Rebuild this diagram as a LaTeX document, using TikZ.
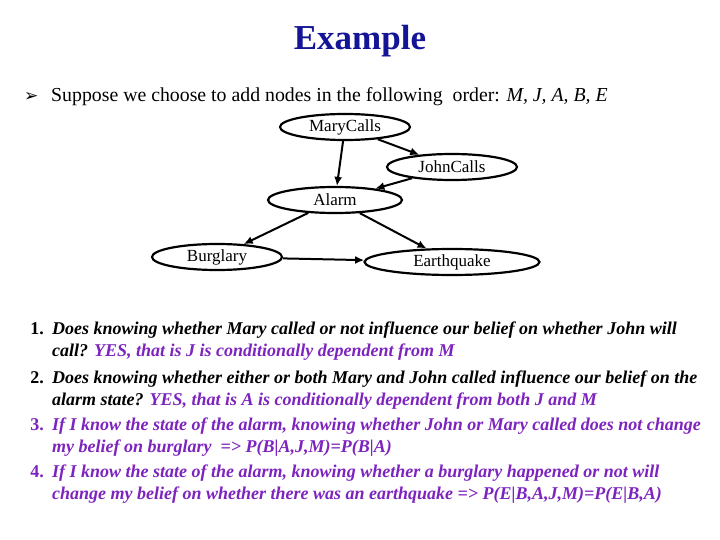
\documentclass[tikz,border=0pt]{standalone}
\usepackage{fontspec}
\setmainfont{Liberation Serif}
\usetikzlibrary{arrows.meta,shapes.geometric}
\definecolor{ttl}{RGB}{20,20,150}
\definecolor{pur}{RGB}{125,35,190}
\tikzset{
 bn/.style={ellipse,draw,line width=2.2pt,minimum height=26pt,inner sep=0pt,font=\fontsize{17}{19}\selectfont},
 ar/.style={-{Latex[length=9pt,width=8pt]},line width=2pt},
 li/.style={anchor=base west,inner sep=0pt,font=\fontsize{18}{20}\selectfont\bfseries\itshape},
 num/.style={anchor=base east,inner sep=0pt,font=\fontsize{18}{20}\selectfont\bfseries},
}
\begin{document}
\begin{tikzpicture}[x=1pt,y=-1pt]
\useasboundingbox (0,0) rectangle (720,540);
\node[font=\fontsize{35}{38}\selectfont\bfseries,text=ttl] (title) at (360,41) {Example};
\node[anchor=base west,inner sep=0pt] (bul) at (24,102) {\fontspec{DejaVu Sans}\fontsize{17}{18}\selectfont ➢};
\node[anchor=base west,inner sep=0pt,font=\fontsize{19.8}{22}\selectfont] (intro) at (51,102) {Suppose we choose to add nodes in the following\ \ order: \textit{M, J, A, B, E}};
\node[bn,minimum width=130pt] (m) at (345,127) {MaryCalls};
\node[bn,minimum width=130pt] (j) at (452,167) {JohnCalls};
\node[bn,minimum width=134pt] (a) at (335,200) {Alarm};
\node[bn,minimum width=130pt] (b) at (217,257) {Burglary};
\node[bn,minimum width=175pt] (e) at (452,262) {Earthquake};
\draw[ar] (m) -- (a);
\draw[ar] (m) -- (j);
\draw[ar] (j) -- (a);
\draw[ar] (a) -- (b);
\draw[ar] (a) -- (e);
\draw[ar] (b) -- (e);
\node[num] (n1) at (44,334) {1.};
\node[num] (n2) at (44,383) {2.};
\node[num,text=pur] (n3) at (44,430) {3.};
\node[num,text=pur] (n4) at (44,477) {4.};
\node[li] (l1) at (52,334) {Does knowing whether Mary called or not influence our belief on whether John will};
\node[li] (l1b) at (52,356) {call? \textcolor{pur}{YES, that is J is conditionally dependent from M}};
\node[li] (l2) at (52,383) {Does knowing whether either or both Mary and John called influence our belief on the};
\node[li] (l2b) at (52,405) {alarm state? \textcolor{pur}{YES, that is A is conditionally dependent from both J and M}};
\node[li,text=pur] (l3) at (52,430) {If I know the state of the alarm, knowing whether John or Mary called does not change};
\node[li,text=pur] (l3b) at (52,452) {my belief on burglary\ \ => P(B|A,J,M)=P(B|A)};
\node[li,text=pur] (l4) at (52,477) {If I know the state of the alarm, knowing whether a burglary happened or not will};
\node[li,text=pur] (l4b) at (52,499) {change my belief on whether there was an earthquake => P(E|B,A,J,M)=P(E|B,A)};
\end{tikzpicture}
\end{document}
